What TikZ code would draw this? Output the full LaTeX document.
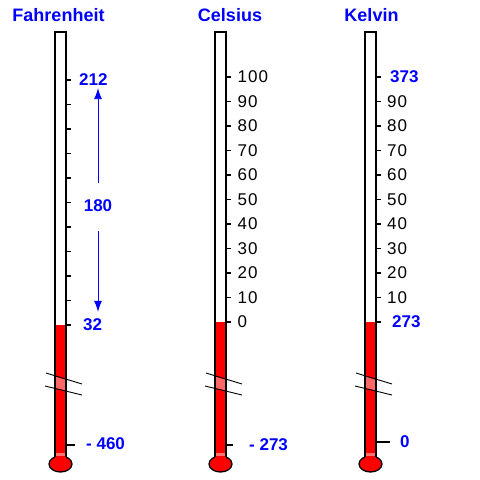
\documentclass[tikz,border=0pt]{standalone}
\usepackage{fontspec}
\setmainfont{Liberation Sans}
\usepackage{xcolor}
\usepackage{tikz}
\usetikzlibrary{arrows.meta}
\tikzstyle{arrow} = [blue,thick,-{Latex[length=11pt,width=8pt]}]
\tikzstyle{title} = [blue,inner sep=0,font=\fontsize{18}{18}\selectfont\bfseries]
\tikzstyle{bluenum} = [blue,inner sep=0,anchor=west,font=\fontsize{17}{17}\selectfont\bfseries]
\tikzstyle{num} = [black,inner sep=0,anchor=west,font=\fontsize{17}{17}\selectfont\addfontfeature{LetterSpace=6}]
\tikzstyle{tube} = [line width=1.3pt]
\tikzstyle{tick} = [line width=1.2pt]

\begin{document}
\begin{tikzpicture}[x=1pt,y=-1pt]
	\useasboundingbox (0,0) rectangle (480,480);

	% Titles:
	\node [title] (fahr) at (58.5,15) {Fahrenheit};
	\node [title] (cels) at (230,15) {Celsius};
	\node [title] (kelv) at (371.5,15) {Kelvin};

	% Thermometers:
	% left edge of the tube and the top of the red column
	\foreach \l/\top in {55/325,215/322,365/322}{%
		\draw [tube,fill=red] (\l+5.5,464) ellipse [x radius=11.5,y radius=8];
		\fill [red] (\l,\top) rectangle (\l+11,458);
		\fill [red!55] (\l,452.5) rectangle (\l+11,456);
		% the break in the scale
		\fill [red!60] (\l,376.5) -- (\l+11,380) -- (\l+11,390.5) -- (\l,388) -- cycle;
		\draw [line width=0.9pt] (\l-9,373) -- (\l+27,384);
		\draw [line width=0.9pt] (\l-10,386) -- (\l+27,395);
		\draw [tube] (\l,457) -- (\l,32) -- (\l+11,32) -- (\l+11,457);
	}

	% Fahrenheit scale:
	\foreach \i in {0,...,10}{%
		\draw [tick] (66,80+24.5*\i) -- ++(5,0);
	}
	\draw [tick] (66,445) -- ++(9,0);
	\node [bluenum] (f212) at (79,80) {212};
	\node [bluenum,anchor=center] (f180) at (98,206) {180};
	\node [bluenum] (f32) at (83,325) {32};
	\node [bluenum] (f460) at (86,444) {- 460};
	\draw [arrow,shorten <=17pt,shorten >=2pt] (f180.north) -- (f212.south -| f180.north);
	\draw [arrow,shorten <=19pt,shorten >=7pt] (f180.south) -- (f32.north -| f180.south);

	% Celsius scale:
	\foreach \v [count=\i from 0] in {100,90,...,0}{%
		\draw [tick] (226,77+24.5*\i) -- ++(5,0) node [num,xshift=6pt] (c\v) {\v};
	}
	\draw [tick] (226,445) -- ++(7,0);
	\node [bluenum] (c273) at (249,445) {- 273};

	% Kelvin scale:
	\foreach \v [count=\i from 0] in {373,90,80,70,60,50,40,30,20,10,273}{%
		\draw [tick] (376,77+24.5*\i) -- ++(5,0);
	}
	\foreach \v [count=\i from 1] in {90,80,...,10}{%
		\node [num] (k\v) at (387,77+24.5*\i) {\v};
	}
	\node [bluenum] (k373) at (390,77) {373};
	\node [bluenum] (k273) at (392,322) {273};
	\draw [tick] (376,442) -- ++(14,0);
	\node [bluenum] (k0) at (400,442) {0};
\end{tikzpicture}
\end{document}
